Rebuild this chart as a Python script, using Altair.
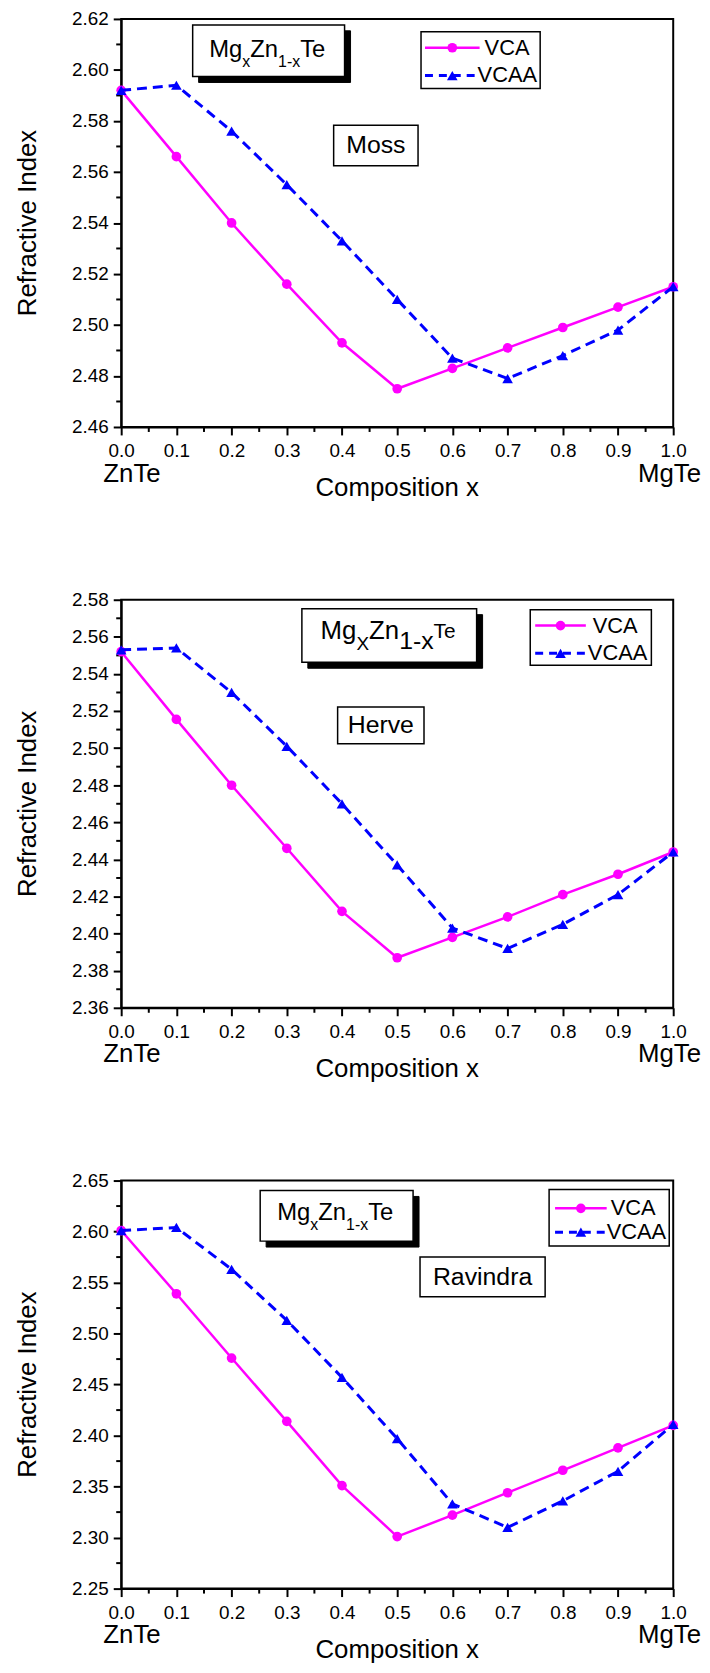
import altair as alt
import pandas as pd

# ---------------- data ----------------
x_vals = [0.0, 0.1, 0.2, 0.3, 0.4, 0.5, 0.6, 0.7, 0.8, 0.9, 1.0]

moss_vca = [2.592, 2.566, 2.540, 2.516, 2.493, 2.475, 2.483, 2.491, 2.499, 2.507, 2.515]
moss_vcaa = [2.592, 2.594, 2.576, 2.555, 2.533, 2.510, 2.487, 2.479, 2.488, 2.498, 2.515]

herve_vca = [2.552, 2.5155, 2.480, 2.446, 2.412, 2.387, 2.398, 2.409, 2.421, 2.432, 2.444]
herve_vcaa = [2.553, 2.554, 2.530, 2.501, 2.470, 2.437, 2.403, 2.392, 2.405, 2.421, 2.444]

rav_vca = [2.601, 2.539, 2.476, 2.414, 2.351, 2.301, 2.322, 2.344, 2.366, 2.388, 2.410]
rav_vcaa = [2.601, 2.604, 2.563, 2.513, 2.457, 2.397, 2.333, 2.310, 2.336, 2.365, 2.411]

panel_names = ["Moss", "Herve", "Ravindra"]
y_domains = [[2.46, 2.62], [2.36, 2.58], [2.25, 2.65]]
y_minor_steps = [0.01, 0.01, 0.025]
x_minor_step = 0.05
series_labels = ["VCA", "VCAA"]
x_end_labels = ["ZnTe", "MgTe"]
x_title = "Composition x"
y_title = "Refractive Index"

# ---------------- style ----------------
FONT = "Liberation Sans"
MAG = "#ff00ff"
BLUE = "#0000ff"
W, H = 556, 411
CIRC = 95
TRI = 115

ARIAL = {'M': 0.833, 'g': 0.556, 'x': 0.5, 'X': 0.667, 'Z': 0.611, 'n': 0.556,
         '1': 0.556, '-': 0.333, 'T': 0.611, 'e': 0.556}


def tw(s, fs):
    return sum(ARIAL[c] for c in s) * fs


def tick_list(lo, hi, step):
    n = int(round((hi - lo) / step))
    return [round(lo + i * step, 4) for i in range(n + 1)]


one = pd.DataFrame({"a": [1]})


def txt(text, x, y, fs, align="center", baseline="middle", angle=0):
    kw = dict(text=text, fontSize=fs, font=FONT, align=align, baseline=baseline, color="black")
    if angle:
        kw["angle"] = angle
    return alt.Chart(one).mark_text(**kw).encode(x=alt.value(x), y=alt.value(y))


def rect(x0, x1, y0, y1, fill="white", stroke="black", sw=1.5):
    return alt.Chart(one).mark_rect(fill=fill, stroke=stroke, strokeWidth=sw).encode(
        x=alt.value(x0), x2=alt.value(x1), y=alt.value(y0), y2=alt.value(y1))


def formula(box, pieces, baseline):
    x0, x1, y0, y1 = box
    layers = [rect(x0 + 6, x1 + 6, y0 + 6, y1 + 6, fill="black", stroke="black", sw=1),
              rect(x0, x1, y0, y1)]
    total = sum(tw(s, fs) for s, fs, _ in pieces)
    cx = (x0 + x1) / 2
    pos = cx - total / 2
    for s, fs, dy in pieces:
        layers.append(txt(s, pos, baseline + dy, fs, align="left", baseline="alphabetic"))
        pos += tw(s, fs)
    return layers


def legend(box, line_x, rows_y, text_x):
    x0, x1, y0, y1 = box
    la, lb = line_x
    cxm = (la + lb) / 2
    layers = [rect(x0, x1, y0, y1)]
    layers.append(alt.Chart(one).mark_rule(color=MAG, strokeWidth=2.5).encode(
        x=alt.value(la), x2=alt.value(lb), y=alt.value(rows_y[0])))
    layers.append(alt.Chart(one).mark_point(shape="circle", filled=True, size=CIRC, color=MAG, opacity=1).encode(
        x=alt.value(cxm), y=alt.value(rows_y[0])))
    layers.append(alt.Chart(one).mark_rule(color=BLUE, strokeWidth=3, strokeDash=[8, 6]).encode(
        x=alt.value(la), x2=alt.value(lb), y=alt.value(rows_y[1])))
    layers.append(alt.Chart(one).mark_point(shape="triangle-up", filled=True, size=TRI, color=BLUE, opacity=1).encode(
        x=alt.value(cxm), y=alt.value(rows_y[1])))
    layers.append(txt(series_labels[0], text_x[0], rows_y[0], 22, align="left"))
    layers.append(txt(series_labels[1], text_x[1], rows_y[1], 22, align="left"))
    return layers


def panel(vca, vcaa, ydom, ystep, name, name_box, form_box, form_pieces, form_base, leg):
    df = pd.DataFrame({"x": x_vals, "vca": vca, "vcaa": vcaa})
    xt = tick_list(0.0, 1.0, x_minor_step)
    yt = tick_list(ydom[0], ydom[1], ystep)
    x_major, x_minor = xt[0::2], xt[1::2]
    y_major, y_minor = yt[0::2], yt[1::2]
    common = dict(title=None, grid=False, labelOverlap=False, labelFlush=False,
                  labelFontSize=19, labelFont=FONT, labelColor="black",
                  domainColor="black", domainWidth=2, tickColor="black", tickWidth=2, tickSize=8)
    xaxis = alt.Axis(values=x_major, format=".1f", labelPadding=7, **common)
    yaxis = alt.Axis(values=y_major, format=".2f", labelPadding=5, **common)
    X = alt.X("x:Q", scale=alt.Scale(domain=[0, 1], nice=False, zero=False), axis=xaxis)
    ysc = alt.Scale(domain=ydom, nice=False, zero=False)
    base = alt.Chart(df)
    xminor_df = pd.DataFrame({"x": x_minor})
    yminor_df = pd.DataFrame({"vca": y_minor})
    layers = [
        alt.Chart(xminor_df).mark_rule(color="black", strokeWidth=2).encode(
            x=X, y=alt.value(H), y2=alt.value(H + 5)),
        alt.Chart(yminor_df).mark_rule(color="black", strokeWidth=2).encode(
            y=alt.Y("vca:Q", scale=ysc, axis=yaxis), x=alt.value(0), x2=alt.value(-5)),
        base.mark_line(color=MAG, strokeWidth=2.5).encode(x=X, y=alt.Y("vca:Q", scale=ysc, axis=yaxis)),
        base.mark_point(shape="circle", filled=True, size=CIRC, color=MAG, opacity=1).encode(
            x=X, y=alt.Y("vca:Q", scale=ysc, axis=yaxis)),
        base.mark_line(color=BLUE, strokeWidth=3, strokeDash=[10, 6]).encode(
            x=X, y=alt.Y("vcaa:Q", scale=ysc, axis=yaxis)),
        base.mark_point(shape="triangle-up", filled=True, size=TRI, color=BLUE, opacity=1).encode(
            x=X, y=alt.Y("vcaa:Q", scale=ysc, axis=yaxis)),
    ]
    layers += formula(form_box, form_pieces, form_base)
    layers += legend(*leg)
    nb = name_box
    layers.append(rect(*nb))
    layers.append(txt(name, (nb[0] + nb[1]) / 2, (nb[2] + nb[3]) / 2, 25))
    layers.append(txt(y_title, -94, H / 2, 26, angle=270))
    layers.append(txt(x_title, W / 2, H + 70, 26, baseline="alphabetic"))
    layers.append(txt(x_end_labels[0], -18, H + 55, 26, align="left", baseline="alphabetic"))
    layers.append(txt(x_end_labels[1], 584, H + 55, 26, align="right", baseline="alphabetic"))
    return alt.layer(*layers).properties(width=W, height=H)


pieces_a = [("Mg", 24, 0), ("x", 16, 10), ("Zn", 24, 0), ("1-x", 16, 10), ("Te", 24, 0)]
pieces_b = [("Mg", 26, 0), ("X", 19, 11), ("Zn", 26, 0), ("1-x", 25, 10), ("Te", 21, -1)]

p1 = panel(moss_vca, moss_vcaa, y_domains[0], y_minor_steps[0], panel_names[0],
           (214, 299, 107, 148), (72, 225, 6, 58), pieces_a, 38,
           ((302, 422, 13, 70), (306, 361), (29, 57), (366, 359)))
p2 = panel(herve_vca, herve_vcaa, y_domains[1], y_minor_steps[1], panel_names[1],
           (218, 305, 108, 145), (182, 358, 9, 63), pieces_b, 40,
           ((412, 534, 10, 66), (417, 468), (26, 54), (475, 470)))
p3 = panel(rav_vca, rav_vcaa, y_domains[2], y_minor_steps[2], panel_names[2],
           (301, 427, 77, 117), (140, 294, 10, 61), pieces_a, 40,
           ((431, 552, 9, 66), (437, 489), (28, 52), (493, 489)))

chart = alt.vconcat(p1, p2, p3, spacing=88).properties(
    padding={"left": 6, "top": -5, "right": 0, "bottom": 5}
).configure_view(stroke="black", strokeWidth=2)

chart.save("out.html", embed_options={"renderer": "svg", "actions": False})
